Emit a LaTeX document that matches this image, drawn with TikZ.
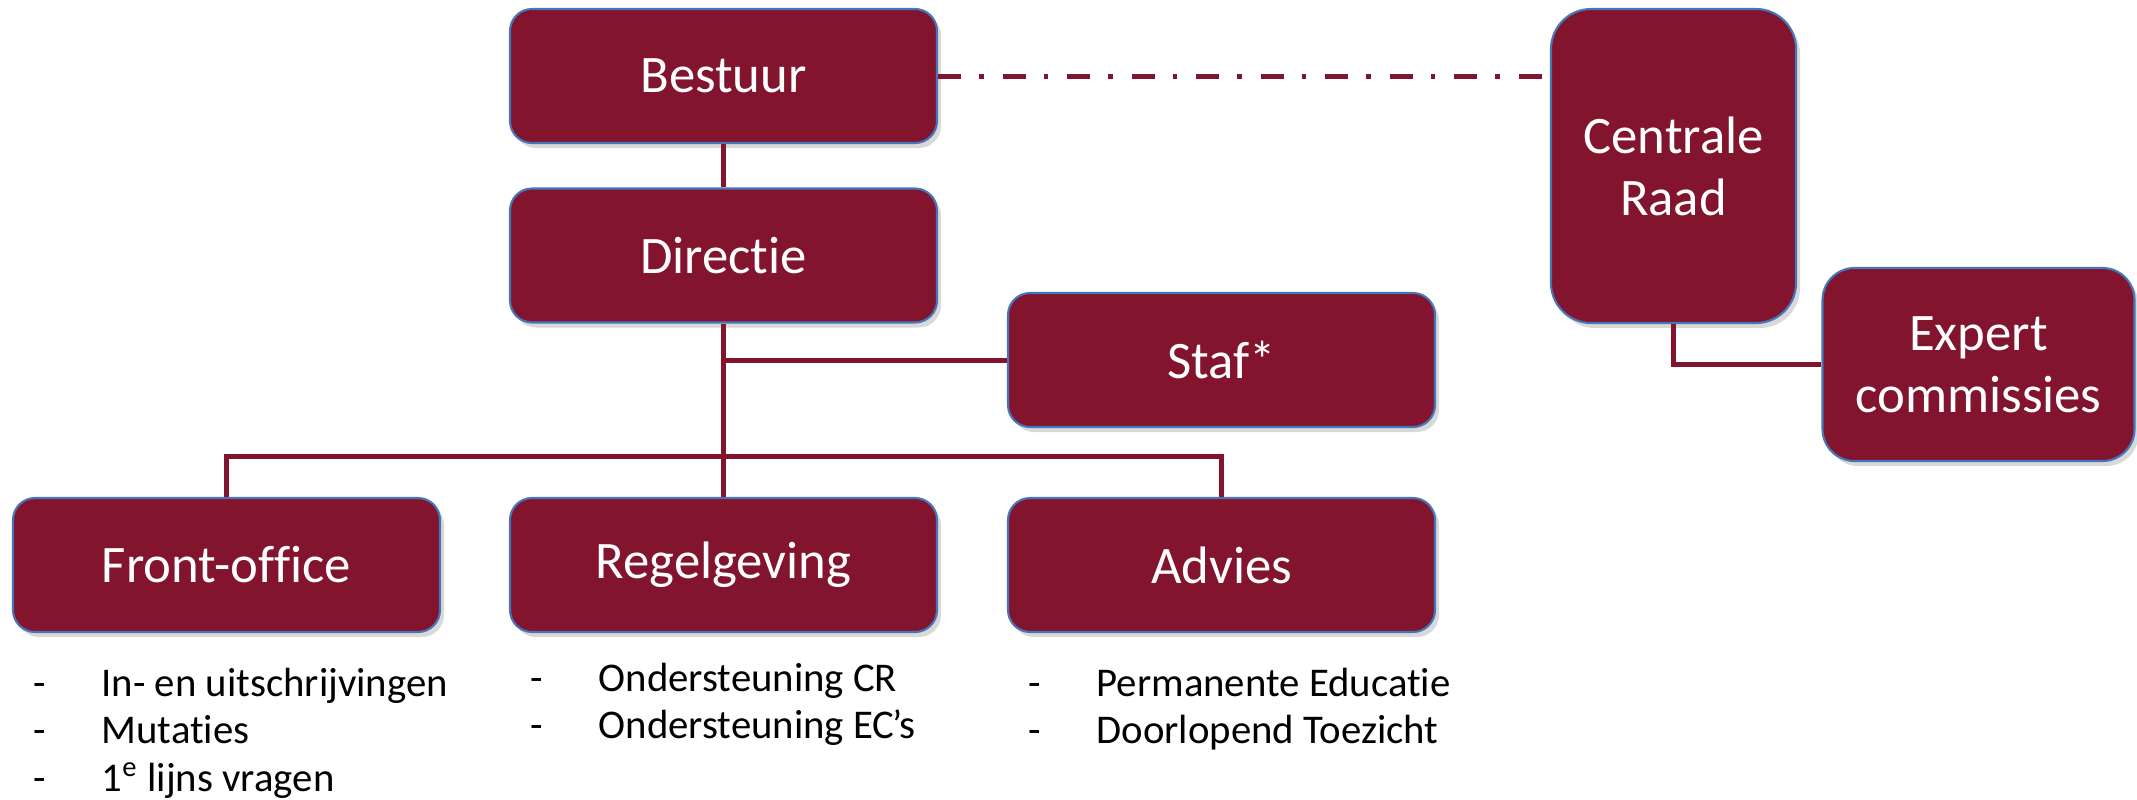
\documentclass[tikz,border=0pt]{standalone}
\usepackage{fontspec}
\setmainfont[Ligatures=NoCommon]{Carlito}
\usepackage{xcolor}
\usepackage{tikz}
\usetikzlibrary{positioning,shadows}
\definecolor{wijnrood}{RGB}{130,20,45}
\definecolor{randblauw}{RGB}{70,118,186}

\begin{document}
\begin{tikzpicture}[
    unit/.style={draw=randblauw, line width=0.6pt, fill=wijnrood, text=white, rounded corners=#1,
        minimum width=4.27cm, minimum height=1.34cm, inner sep=0pt, align=center,
        font=\fontsize{15}{17.6}\selectfont,
        drop shadow={opacity=0.3, shadow xshift=0.04cm, shadow yshift=-0.05cm}},
    unit/.default=0.22cm,
    link/.style={draw=wijnrood, line width=0.05cm},
    taken/.style={anchor=base west, inner sep=0pt, font=\fontsize{11.6}{13.6}\selectfont}
]
    \useasboundingbox (0,0) rectangle (21.37,-7.99);

    % bovenste lijn
    \node[unit] (bestuur) at (7.235,-0.76) {Bestuur};
    \node[unit] (directie) at (7.235,-2.555) {Directie};
    \node[unit] (staf) at (12.215,-3.60) {Staf*};

    % afdelingen
    \node[unit] (front) at (2.265,-5.65) {Front-office};
    \node[unit] (regel) at (7.235,-5.65) {Regelgeving};
    \node[unit] (advies) at (12.215,-5.65) {Advies};

    % raad
    \node[unit=0.4cm, minimum width=2.45cm, minimum height=3.14cm] (raad) at (16.735,-1.66) {Centrale\\Raad};
    \node[unit=0.32cm, minimum width=3.12cm, minimum height=1.93cm] (expert) at (19.785,-3.645) {Expert\\commissies};

    % lijnen
    \coordinate (bus) at (7.235,-4.56);
    \draw[link] (bestuur) -- (directie);
    \draw[link] (directie) -- (regel);
    \draw[link] (directie.south |- staf.west) -- (staf.west);
    \draw[link] (front.north) |- (bus) -| (advies.north);
    \draw[link] (raad.south) |- (expert.west);
    \draw[link, dash pattern=on 0.23cm off 0.18cm on 0.045cm off 0.19cm] (bestuur.east) -- (raad.west |- bestuur.east);

    % taken
    \node[taken] (front taken) at ([xshift=0.21cm,yshift=-0.63cm]front.south west)
        {\begin{tabular}[t]{@{}p{0.68cm}@{}l@{}}
        - & In- en uitschrijvingen\\
        - & Mutaties\\
        - & 1\textsuperscript{e} lijns vragen
        \end{tabular}};
    \node[taken] (regel taken) at ([xshift=0.21cm,yshift=-0.58cm]regel.south west)
        {\begin{tabular}[t]{@{}p{0.68cm}@{}l@{}}
        - & Ondersteuning CR\\
        - & Ondersteuning EC\kern-0.06em’s
        \end{tabular}};
    \node[taken] (advies taken) at ([xshift=0.21cm,yshift=-0.63cm]advies.south west)
        {\begin{tabular}[t]{@{}p{0.68cm}@{}l@{}}
        - & Permanente Educatie\\
        - & Doorlopend Toezicht
        \end{tabular}};
\end{tikzpicture}
\end{document}
